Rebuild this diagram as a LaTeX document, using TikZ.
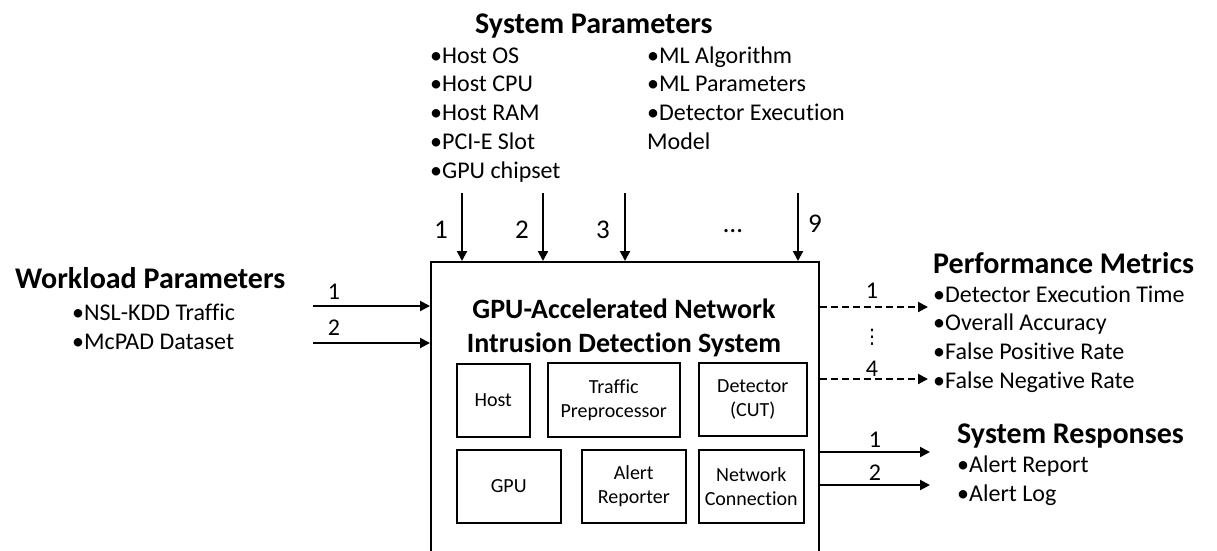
\documentclass[tikz,border=0pt]{standalone}
\usepackage{fontspec}
\setmainfont{Carlito}[Ligatures=NoCommon]
\newfontfamily\symfont{DejaVu Sans}
\usetikzlibrary{arrows.meta}

\begin{document}
\begin{tikzpicture}[x=1pt,y=-1pt,
  hdr/.style={font=\fontsize{30}{36}\selectfont\bfseries, inner sep=0pt, anchor=base west},
  item/.style={font=\fontsize{24}{28.8}\selectfont, inner sep=0pt, anchor=base west},
  num/.style={font=\fontsize{24}{28.8}\selectfont, inner sep=0pt, anchor=base},
  bignum/.style={num, font=\fontsize{27}{32}\selectfont},
  part/.style={draw, line width=1.5pt, font=\fontsize{20}{24}\selectfont,
    align=center, inner sep=0pt, anchor=north west},
  conn/.style={line width=2pt, -{Triangle[length=10pt,width=10pt]}},
  meas/.style={conn, dash pattern=on 7pt off 4pt},
]
\useasboundingbox (0,0) rectangle (1217,550);
\fill[white] (0,0) rectangle (1217,550);
\clip (0,0) rectangle (1217,550);

% system under test (open towards the bottom)
\node[draw, line width=2pt, minimum width=388pt, minimum height=330pt,
  anchor=north west, inner sep=0pt] (ids) at (430,261) {};
\node[font=\fontsize{28}{34}\selectfont\bfseries, align=center, inner sep=0pt]
  (title) at (624,328) {GPU-Accelerated Network\\Intrusion Detection System};

% components
\node[part, minimum width=73pt, minimum height=73pt] (host) at (456,363) {Host};
\node[part, minimum width=132pt, minimum height=74pt] (prep) at (547,362) {Traffic\\Preprocessor};
\node[part, minimum width=108pt, minimum height=73pt] (det) at (698,362) {Detector\\(CUT)};
\node[part, minimum width=104pt, minimum height=73pt] (gpu) at (456,449) {GPU};
\node[part, minimum width=104pt, minimum height=73pt] (alert) at (581,449) {Alert\\Reporter};
\node[part, minimum width=105pt, minimum height=73pt] (net) at (698,449) {Network\\Connection};

% system parameters
\node[hdr] (sphdr) at (475,33) {System Parameters};
\node[item] (sp1) at (430,63) {•Host OS};
\node[item] (sp2) at (430,91.8) {•Host CPU};
\node[item] (sp3) at (430,120.6) {•Host RAM};
\node[item] (sp4) at (430,149.4) {•PCI-E Slot};
\node[item] (sp5) at (430,178.2) {•GPU chipset};
\node[item] (sp6) at (647,63) {•ML Algorithm};
\node[item] (sp7) at (647,91.8) {•ML Parameters};
\node[item] (sp8) at (647,120.6) {•Detector Execution};
\node[item] (sp9) at (647,149.4) {Model};

\coordinate (s1) at (462,193);
\coordinate (s2) at (543,193);
\coordinate (s3) at (625,193);
\coordinate (s9) at (798,193);
\draw[conn] (s1) -- (s1 |- ids.north);
\draw[conn] (s2) -- (s2 |- ids.north);
\draw[conn] (s3) -- (s3 |- ids.north);
\draw[conn] (s9) -- (s9 |- ids.north);
\node[bignum] (ls1) at (441,238) {1};
\node[bignum] (ls2) at (522,238) {2};
\node[bignum] (ls3) at (603,238) {3};
\node[bignum] (lsd) at (733,232) {…};
\node[bignum] (ls9) at (815,232) {9};

% workload parameters
\node[hdr] (wphdr) at (15,288) {Workload Parameters};
\node[item] (wp1) at (72,320) {•NSL-KDD Traffic};
\node[item] (wp2) at (72,349) {•McPAD Dataset};
\coordinate (w1) at (313,306);
\coordinate (w2) at (313,343);
\draw[conn] (w1) -- (w1 -| ids.west);
\draw[conn] (w2) -- (w2 -| ids.west);
\node[num] (lw1) at (334,299) {1};
\node[num] (lw2) at (334,335) {2};

% performance metrics
\node[hdr] (pmhdr) at (933,273) {Performance Metrics};
\node[item] (pm1) at (933,302) {•Detector Execution Time};
\node[item] (pm2) at (933,330.8) {•Overall Accuracy};
\node[item] (pm3) at (933,359.6) {•False Positive Rate};
\node[item] (pm4) at (933,388.4) {•False Negative Rate};
\coordinate (m1) at (928,307);
\coordinate (m4) at (928,379);
\draw[meas] (m1 -| ids.east) -- (m1);
\draw[meas] (m4 -| ids.east) -- (m4);
\node[num] (lm1) at (872,298) {1};
\node[font=\symfont\fontsize{20}{24}\selectfont, inner sep=0pt] (lmd) at (872,337) {⋮};
\node[num] (lm4) at (872,376) {4};

% system responses
\node[hdr] (srhdr) at (957,443) {System Responses};
\node[item] (sr1) at (957,472) {•Alert Report};
\node[item] (sr2) at (957,501) {•Alert Log};
\coordinate (r1) at (930,452);
\coordinate (r2) at (930,485);
\draw[conn] (r1 -| ids.east) -- (r1);
\draw[conn] (r2 -| ids.east) -- (r2);
\node[num] (lr1) at (875,447) {1};
\node[num] (lr2) at (875,480) {2};
\end{tikzpicture}
\end{document}
